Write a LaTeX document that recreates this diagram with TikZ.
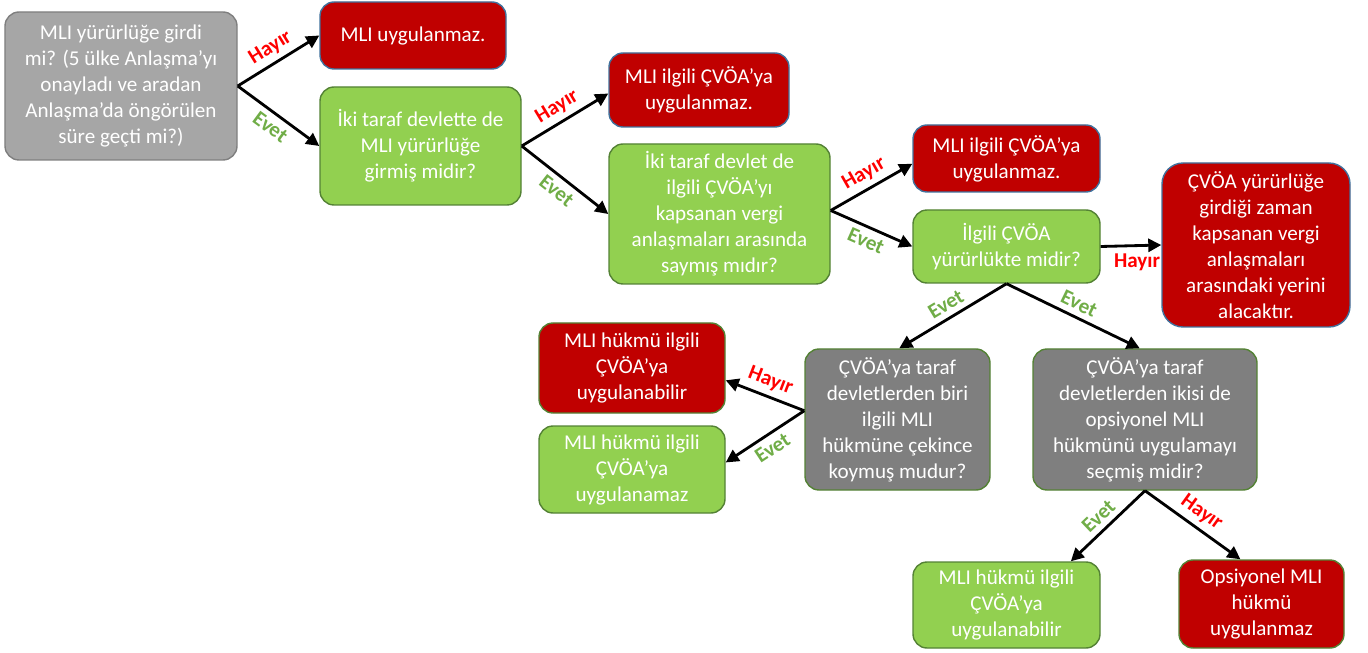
\documentclass[tikz,border=0pt]{standalone}
\usepackage{fontspec}
\setmainfont{Carlito}
\usepackage{tikz}
\usetikzlibrary{arrows.meta,calc,positioning}
\definecolor{mlired}{RGB}{192,0,0}
\definecolor{mliredline}{RGB}{65,113,156}
\definecolor{mligreen}{RGB}{146,208,80}
\definecolor{mligreenline}{RGB}{84,130,53}
\definecolor{mligray}{RGB}{166,166,166}
\definecolor{mligrayline}{RGB}{127,127,127}
\definecolor{mlidark}{RGB}{127,127,127}
\definecolor{mliyes}{RGB}{112,173,71}
\definecolor{mlino}{RGB}{255,0,0}

\begin{document}
\begin{tikzpicture}[
      box/.style={rectangle, rounded corners=8pt, align=center, text=white, inner sep=2pt, line width=0.8pt, font=\fontsize{12}{14.8}\selectfont},
      nobox/.style={box, fill=mlired, draw=mliredline},
      yesbox/.style={box, fill=mligreen, draw=mligreenline},
      askbox/.style={box, fill=mlidark, draw=mligreenline},
      arr/.style={-{Triangle[length=2.6mm, width=2.6mm]}, line width=1.6pt, color=black},
      hayir/.style={font=\fontsize{12}{13}\selectfont\bfseries, text=mlino, inner sep=1pt},
      evet/.style={font=\fontsize{12}{13}\selectfont\bfseries, text=mliyes, inner sep=1pt}
    ]
      \useasboundingbox (0,0) rectangle (27.36,13.04);

      % Left: first question
      \node[box, fill=mligray, draw=mligrayline, minimum width=4.64cm, minimum height=2.96cm] (q1) at (2.42, 11.32) {MLI yürürlüğe girdi\\mi? (5 ülke Anlaşma’yı\\onayladı ve aradan\\Anlaşma’da öngörülen\\süre geçti mi?)};
      \node[nobox, minimum width=3.72cm, minimum height=1.34cm] (r1) at (8.26, 12.33) {MLI uygulanmaz.};
      \node[yesbox, minimum width=4.02cm, minimum height=2.36cm] (q2) at (8.41, 10.12) {İki taraf devlette de\\MLI yürürlüğe\\girmiş midir?};

      % Center: covered agreements
      \node[nobox, minimum width=3.6cm, minimum height=1.48cm] (r2) at (13.98, 11.24) {MLI ilgili ÇVÖA’ya\\uygulanmaz.};
      \node[yesbox, minimum width=4.42cm, minimum height=2.8cm] (q3) at (14.39, 8.76) {İki taraf devlet de\\ilgili ÇVÖA’yı\\kapsanan vergi\\anlaşmaları arasında\\saymış mıdır?};
      \node[nobox, minimum width=3.74cm, minimum height=1.34cm] (r3) at (20.13, 9.87) {MLI ilgili ÇVÖA’ya\\uygulanmaz.};
      \node[yesbox, minimum width=3.74cm, minimum height=1.46cm] (q4) at (20.13, 8.11) {İlgili ÇVÖA\\yürürlükte midir?};
      \node[nobox, rounded corners=12pt, minimum width=3.76cm, minimum height=3.28cm] (r4) at (25.12, 8.14) {ÇVÖA yürürlüğe\\girdiği zaman\\kapsanan vergi\\anlaşmaları\\arasındaki yerini\\alacaktır.};

      % Bottom: reservations and options
      \node[askbox, minimum width=3.7cm, minimum height=2.82cm] (q5) at (17.95, 4.65) {ÇVÖA’ya taraf\\devletlerden biri\\ilgili MLI\\hükmüne çekince\\koymuş mudur?};
      \node[askbox, minimum width=4.48cm, minimum height=2.82cm] (q6) at (22.9, 4.65) {ÇVÖA’ya taraf\\devletlerden ikisi de\\opsiyonel MLI\\hükmünü uygulamayı\\seçmiş midir?};
      \node[nobox, draw=mligreenline, minimum width=3.72cm, minimum height=1.8cm] (r5) at (12.64, 5.68) {MLI hükmü ilgili\\ÇVÖA’ya\\uygulanabilir};
      \node[yesbox, minimum width=3.72cm, minimum height=1.74cm] (g5) at (12.64, 3.65) {MLI hükmü ilgili\\ÇVÖA’ya\\uygulanamaz};
      \node[yesbox, minimum width=3.74cm, minimum height=1.72cm] (g6) at (20.13, 0.94) {MLI hükmü ilgili\\ÇVÖA’ya\\uygulanabilir};
      \node[nobox, draw=mligreenline, minimum width=3.3cm, minimum height=1.76cm] (r6) at (25.23, 0.96) {Opsiyonel MLI\\hükmü\\uygulanmaz};

      % Paths
      \draw[arr] (q1.east) -- (r1.west) node[midway, above=2pt, sloped, hayir]{Hayır};
      \draw[arr] (q1.east) -- (q2.west) node[midway, below=2pt, sloped, evet]{Evet};
      \draw[arr] (q2.east) -- ([yshift=-2pt]r2.west) node[midway, above=2pt, sloped, hayir]{Hayır};
      \draw[arr] (q2.east) -- (q3.west) node[midway, below=2pt, sloped, evet]{Evet};
      \draw[arr] ([yshift=2pt]q3.east) -- ([yshift=-3pt]r3.west) node[midway, above=2pt, sloped, hayir]{Hayır};
      \draw[arr] ([yshift=2pt]q3.east) -- (q4.west) node[midway, below=2pt, sloped, evet]{Evet};
      \draw[arr] (q4.east) -- (r4.west) node[pos=0.6, below=3pt, hayir]{Hayır};
      \draw[arr] (q4.south) -- ([xshift=1pt]q5.north) node[midway, above=2pt, sloped, evet]{Evet};
      \draw[arr] (q4.south) -- ([xshift=-3pt]q6.north) node[midway, above=2pt, sloped, evet]{Evet};
      \draw[arr] ([yshift=5pt]q5.west) -- ([yshift=-7pt]r5.east) node[midway, above=2pt, sloped, hayir]{Hayır};
      \draw[arr] ([yshift=5pt]q5.west) -- ([yshift=4pt]g5.east) node[midway, below=2pt, sloped, evet]{Evet};
      \draw[arr] (q6.south) -- ([xshift=-17pt]g6.north east) node[midway, above=2pt, sloped, evet]{Evet};
      \draw[arr] (q6.south) -- ([xshift=-12pt]r6.north) node[midway, above=2pt, sloped, hayir]{Hayır};
    \end{tikzpicture}
\end{document}
